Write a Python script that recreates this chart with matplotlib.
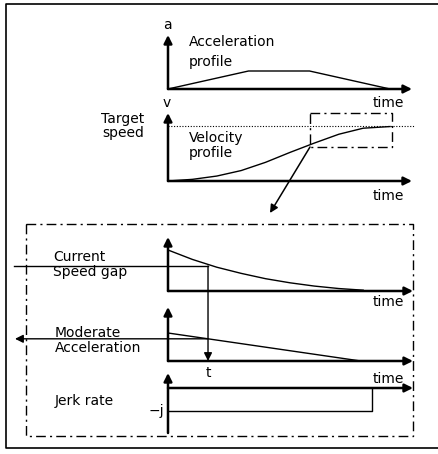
import matplotlib.pyplot as plt

# acceleration profile (trapezoid), time in arbitrary units
acc_t = [0, 3.3, 5.8, 9.1]
acc_a = [0, 1, 1, 0]

# velocity profile, target speed = 1
vel_t = [0, 1, 2, 3, 4, 5, 6, 7, 8, 9.1]
vel_v = [0, 0.03, 0.09, 0.19, 0.34, 0.52, 0.69, 0.85, 0.96, 0.99]
target_speed = 1.0

# current speed gap (decaying)
gap_t = [0, 1, 2, 3, 4, 5, 6, 7, 8]
gap_g = [1, 0.77, 0.58, 0.43, 0.3, 0.2, 0.12, 0.06, 0.02]

# moderate acceleration (linear decay)
mod_t = [0, 7.9]
mod_a = [1, 0]

# jerk rate
jerk_t = [0, 8.35, 8.35]
jerk_j = [-1, -1, 0]

t_now = 1.64

# panel layout in pixels: origin y and pixels per value unit
X0, SX = 168, 24.4
panels = {
    'acc': (89, 18),
    'vel': (181, 55),
    'gap': (291, 41),
    'mod': (361, 28),
    'jerk': (388, 23),
}


def to_px(name, t, v):
    y0, sy = panels[name]
    return [X0 + a * SX for a in t], [y0 - b * sy for b in v]


def arrow(ax, start, tip, lw=1.8, ms=12):
    ax.annotate('', xy=tip, xytext=start,
                arrowprops=dict(arrowstyle='-|>', lw=lw, color='k',
                                mutation_scale=ms, shrinkA=0, shrinkB=0))


def axes_pair(ax, name, top, xend, bottom=None):
    y0 = panels[name][0]
    arrow(ax, (X0, bottom if bottom else y0), (X0, top))
    arrow(ax, (X0, y0), (xend, y0))


fig = plt.figure(figsize=(4.38, 4.54), dpi=100)
ax = fig.add_axes([0, 0, 1, 1])
ax.set_xlim(0, 438)
ax.set_ylim(454, 0)
ax.axis('off')

font = dict(family='DejaVu Sans', fontsize=10, color='k')

# outer frame
ax.plot([438, 6, 6, 438], [4, 4, 448, 448], color='k', lw=1.2)

# acceleration profile
axes_pair(ax, 'acc', 35, 412)
x, y = to_px('acc', acc_t, acc_a)
ax.plot(x, y, color='k', lw=1)
ax.text(167, 25, 'a', ha='center', va='center', **font)
ax.text(189, 42, 'Acceleration', ha='left', va='center', **font)
ax.text(189, 62, 'profile', ha='left', va='center', **font)
ax.text(404, 103, 'time', ha='right', va='center', **font)

# velocity profile
axes_pair(ax, 'vel', 113, 412)
x, y = to_px('vel', vel_t, vel_v)
ax.plot(x, y, color='k', lw=1)
tx, ty = to_px('vel', [0, 10.1], [target_speed, target_speed])
ax.plot(tx, ty, color='k', lw=0.8, ls=(0, (1, 1.5)))
ax.text(167, 103, 'v', ha='center', va='center', **font)
ax.text(123, 119, 'Target', ha='center', va='center', **font)
ax.text(123, 133, 'speed', ha='center', va='center', **font)
ax.text(189, 138, 'Velocity', ha='left', va='center', **font)
ax.text(189, 153, 'profile', ha='left', va='center', **font)
ax.text(404, 196, 'time', ha='right', va='center', **font)

# zoom window on the velocity curve and arrow to the detail box
dash = (0, (7, 3, 1.5, 3))
ax.plot([310, 392, 392, 310, 310], [113, 113, 147, 147, 113], color='k', lw=1, ls=dash)
arrow(ax, (310, 147), (270, 213), lw=1.1, ms=12)

# detail box
ax.plot([26, 413, 413, 26, 26], [224, 224, 436, 436, 224], color='k', lw=1, ls=dash)

# speed gap
axes_pair(ax, 'gap', 237, 413)
x, y = to_px('gap', gap_t, gap_g)
ax.plot(x, y, color='k', lw=1)
cx, cy = to_px('gap', [t_now], [0.61])
ax.plot([14, cx[0]], [cy[0], cy[0]], color='k', lw=1)
my0 = panels['mod'][0]
arrow(ax, (cx[0], cy[0]), (cx[0], my0), lw=1, ms=12)
ax.text(53, 257, 'Current', ha='left', va='center', **font)
ax.text(53, 272, 'Speed gap', ha='left', va='center', **font)
ax.text(404, 302, 'time', ha='right', va='center', **font)

# moderate acceleration
axes_pair(ax, 'mod', 307, 413)
x, y = to_px('mod', mod_t, mod_a)
ax.plot(x, y, color='k', lw=1)
a_now = mod_a[0] + (mod_a[1] - mod_a[0]) * t_now / mod_t[1]
mx, my = to_px('mod', [t_now], [a_now])
arrow(ax, (mx[0], my[0]), (15, my[0]), lw=1, ms=12)
ax.text(55, 333, 'Moderate', ha='left', va='center', **font)
ax.text(55, 348, 'Acceleration', ha='left', va='center', **font)
ax.text(cx[0], 373, 't', ha='center', va='center', **font)
ax.text(404, 379, 'time', ha='right', va='center', **font)

# jerk rate
axes_pair(ax, 'jerk', 373, 413, bottom=433)
x, y = to_px('jerk', jerk_t, jerk_j)
ax.plot([X0] + x, [y[0]] + y, color='k', lw=1)
ax.text(55, 401, 'Jerk rate', ha='left', va='center', **font)
ax.text(164, 411, '\u2212j', ha='right', va='center', **font)

fig.savefig('out.png', dpi=100)
